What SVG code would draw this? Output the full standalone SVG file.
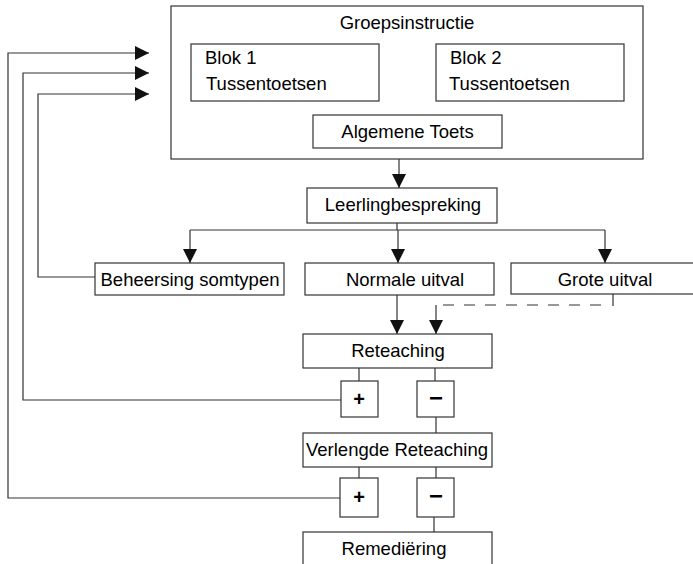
<svg xmlns="http://www.w3.org/2000/svg" width="693" height="564" viewBox="0 0 693 564">
<defs>
<marker id="ah" markerUnits="userSpaceOnUse" markerWidth="15" markerHeight="15" refX="14" refY="7.5" orient="auto">
<path d="M0,0.5 L14,7.5 L0,14.5 z" fill="#111"/>
</marker>
<style>
.box{fill:#fff;stroke:#333;stroke-width:1.2}
.ln{fill:none;stroke:#333;stroke-width:1.2}
.ar{fill:none;stroke:#333;stroke-width:1.2;marker-end:url(#ah)}
.dash{fill:none;stroke:#333;stroke-width:1.2;stroke-dasharray:11 10}
text{font-family:"Liberation Sans",Arial,sans-serif;font-size:18.5px;fill:#000}
.c{text-anchor:middle}
.pm{font-weight:bold}
</style>
</defs>
<rect width="693" height="564" fill="#fff"/>
<g id="connectors">
<polyline class="ln" points="268,101 268,132 313,132"/>
<polyline class="ln" points="546,100 546,132 502,132"/>
<line class="ar" x1="399" y1="148" x2="399" y2="188"/>
<line class="ln" x1="397" y1="223" x2="397" y2="230"/>
<line class="ln" x1="190" y1="230" x2="605" y2="230"/>
<line class="ar" x1="190" y1="230" x2="190" y2="263"/>
<line class="ar" x1="398" y1="230" x2="398" y2="263"/>
<line class="ar" x1="605" y1="230" x2="605" y2="263"/>
<line class="ar" x1="397" y1="295" x2="397" y2="334"/>
<line class="ln" x1="613" y1="294" x2="613" y2="306"/>
<line class="dash" x1="601" y1="305" x2="436" y2="305"/>
<line class="ar" x1="436" y1="305" x2="436" y2="334"/>
<line class="ln" x1="359" y1="368" x2="359" y2="381"/>
<line class="ln" x1="435" y1="368" x2="435" y2="381"/>
<line class="ln" x1="436" y1="417" x2="436" y2="433"/>
<line class="ln" x1="359" y1="467" x2="359" y2="478"/>
<line class="ln" x1="436" y1="467" x2="436" y2="478"/>
<line class="ln" x1="434" y1="517" x2="434" y2="532"/>
<polyline class="ar" points="95,277 38,277 38,94 149,94"/>
<polyline class="ar" points="341,400 23,400 23,73 149,73"/>
<polyline class="ar" points="340,498 8,498 8,53 149,53"/>
</g>
<g id="groepsinstructie">
<rect class="box" x="171" y="6" width="472" height="153" fill="none"/>
<text class="c" x="407" y="29">Groepsinstructie</text>
</g>
<g id="blok1">
<rect class="box" x="191" y="44" width="188" height="57"/>
<text x="205" y="64">Blok 1</text>
<text x="206" y="90">Tussentoetsen</text>
</g>
<g id="blok2">
<rect class="box" x="436" y="44" width="188" height="57"/>
<text x="450" y="64">Blok 2</text>
<text x="449" y="90">Tussentoetsen</text>
</g>
<g id="algemene">
<rect class="box" x="313" y="115" width="189" height="33"/>
<text class="c" x="407.5" y="138">Algemene Toets</text>
</g>
<g id="leerling">
<rect class="box" x="307" y="188" width="190" height="35"/>
<text class="c" x="403" y="211">Leerlingbespreking</text>
</g>
<g id="beheersing">
<rect class="box" x="95" y="263" width="189" height="32"/>
<text class="c" x="190" y="286">Beheersing somtypen</text>
</g>
<g id="normale">
<rect class="box" x="305" y="263" width="189" height="32"/>
<text class="c" x="405" y="286">Normale uitval</text>
</g>
<g id="grote">
<rect class="box" x="511" y="263" width="200" height="31"/>
<text class="c" x="605" y="286">Grote uitval</text>
</g>
<g id="reteaching">
<rect class="box" x="303" y="334" width="189" height="34"/>
<text class="c" x="398" y="357">Reteaching</text>
</g>
<g id="plus1">
<rect class="box" x="341" y="381" width="37" height="36"/>
<text class="c pm" x="359" y="406" style="font-size:20px">+</text>
</g>
<g id="minus1">
<rect class="box" x="417" y="381" width="37" height="36"/>
<text class="c pm" x="436" y="406" style="font-size:24px">−</text>
</g>
<g id="verlengde">
<rect class="box" x="303" y="433" width="189" height="34"/>
<text class="c" x="397" y="456">Verlengde Reteaching</text>
</g>
<g id="plus2">
<rect class="box" x="340" y="478" width="38" height="39"/>
<text class="c pm" x="359" y="504" style="font-size:20px">+</text>
</g>
<g id="minus2">
<rect class="box" x="417" y="478" width="37" height="39"/>
<text class="c pm" x="436" y="504" style="font-size:24px">−</text>
</g>
<g id="remediering">
<rect class="box" x="303" y="532" width="189" height="40"/>
<text class="c" x="394" y="555">Remediëring</text>
</g>
</svg>
